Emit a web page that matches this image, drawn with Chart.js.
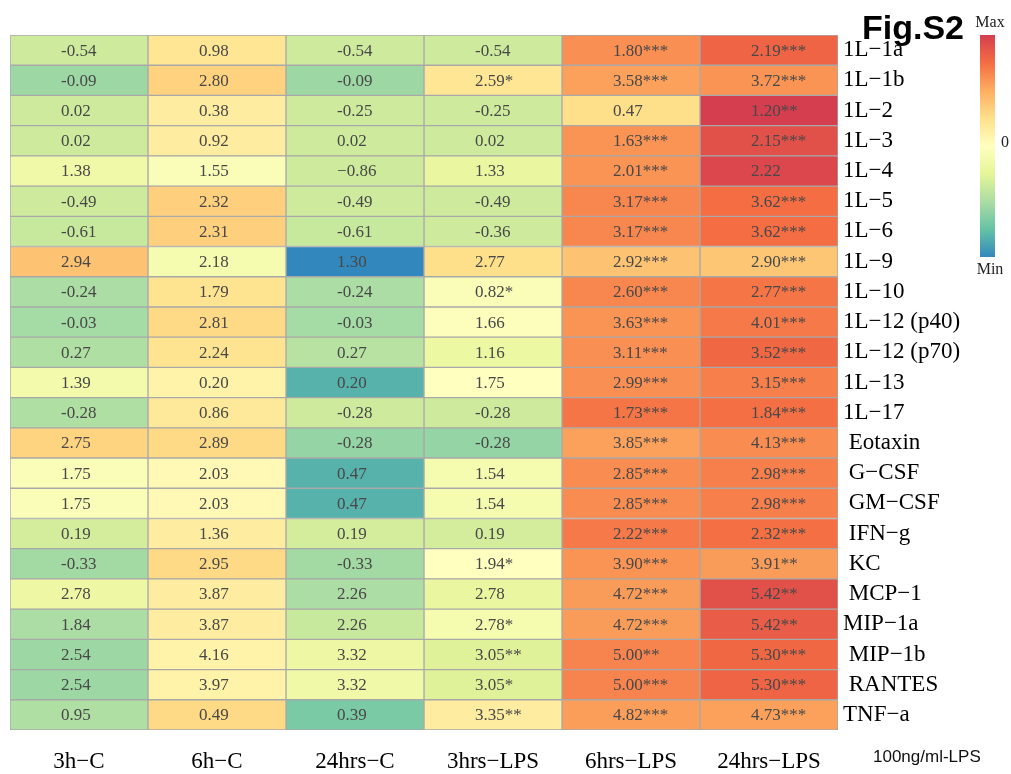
<!DOCTYPE html>
<html>
<head>
<meta charset="utf-8">
<script src="https://cdn.jsdelivr.net/npm/chart.js@4/dist/chart.umd.min.js"></script>
<style>
  html, body { margin: 0; padding: 0; background: #fff; }
  #wrap { width: 1011px; height: 774px; }
</style>
</head>
<body>
<div id="wrap"><canvas id="heat" width="1011" height="774"></canvas></div>
<script>
// Heatmap de citocinas: 6 condiciones x 23 analitos

const columnas = ['3h−C', '6h−C', '24hrs−C', '3hrs−LPS', '6hrs−LPS', '24hrs−LPS'];

const filas = ['1L−1a', '1L−1b', '1L−2', '1L−3', '1L−4', '1L−5', '1L−6', '1L−9', '1L−10',
  '1L−12 (p40)', '1L−12 (p70)', '1L−13', '1L−17', ' Eotaxin', ' G−CSF', ' GM−CSF', ' IFN−g',
  ' KC', ' MCP−1', 'MIP−1a', ' MIP−1b', ' RANTES', 'TNF−a'];

// texto mostrado en cada celda
const textos = [
  ['-0.54', '0.98', '-0.54', '-0.54', '1.80***', '2.19***'],
  ['-0.09', '2.80', '-0.09', '2.59*', '3.58***', '3.72***'],
  ['0.02', '0.38', '-0.25', '-0.25', '0.47', '1.20**'],
  ['0.02', '0.92', '0.02', '0.02', '1.63***', '2.15***'],
  ['1.38', '1.55', '−0.86', '1.33', '2.01***', '2.22'],
  ['-0.49', '2.32', '-0.49', '-0.49', '3.17***', '3.62***'],
  ['-0.61', '2.31', '-0.61', '-0.36', '3.17***', '3.62***'],
  ['2.94', '2.18', '1.30', '2.77', '2.92***', '2.90***'],
  ['-0.24', '1.79', '-0.24', '0.82*', '2.60***', '2.77***'],
  ['-0.03', '2.81', '-0.03', '1.66', '3.63***', '4.01***'],
  ['0.27', '2.24', '0.27', '1.16', '3.11***', '3.52***'],
  ['1.39', '0.20', '0.20', '1.75', '2.99***', '3.15***'],
  ['-0.28', '0.86', '-0.28', '-0.28', '1.73***', '1.84***'],
  ['2.75', '2.89', '-0.28', '-0.28', '3.85***', '4.13***'],
  ['1.75', '2.03', '0.47', '1.54', '2.85***', '2.98***'],
  ['1.75', '2.03', '0.47', '1.54', '2.85***', '2.98***'],
  ['0.19', '1.36', '0.19', '0.19', '2.22***', '2.32***'],
  ['-0.33', '2.95', '-0.33', '1.94*', '3.90***', '3.91**'],
  ['2.78', '3.87', '2.26', '2.78', '4.72***', '5.42**'],
  ['1.84', '3.87', '2.26', '2.78*', '4.72***', '5.42**'],
  ['2.54', '4.16', '3.32', '3.05**', '5.00**', '5.30***'],
  ['2.54', '3.97', '3.32', '3.05*', '5.00***', '5.30***'],
  ['0.95', '0.49', '0.39', '3.35**', '4.82***', '4.73***']
];

// nivel de color (-1 = Min, 0 = centro, 1 = Max)
const niveles = [
  [-0.35, 0.2, -0.35, -0.35, 0.62, 0.8],
  [-0.55, 0.32, -0.55, 0.2, 0.55, 0.6],
  [-0.35, 0.15, -0.35, -0.35, 0.25, 1.0],
  [-0.35, 0.15, -0.35, -0.35, 0.6, 0.9],
  [-0.15, -0.05, -0.35, -0.2, 0.6, 0.95],
  [-0.35, 0.33, -0.35, -0.35, 0.65, 0.75],
  [-0.38, 0.33, -0.38, -0.35, 0.65, 0.75],
  [0.4, -0.1, -1.0, 0.25, 0.4, 0.38],
  [-0.5, 0.22, -0.5, -0.05, 0.65, 0.72],
  [-0.52, 0.28, -0.52, -0.02, 0.6, 0.7],
  [-0.48, 0.22, -0.45, -0.18, 0.62, 0.78],
  [-0.12, 0.1, -0.82, 0.0, 0.62, 0.68],
  [-0.48, 0.18, -0.35, -0.35, 0.72, 0.74],
  [0.31, 0.28, -0.58, -0.58, 0.55, 0.63],
  [-0.05, 0.05, -0.82, -0.1, 0.63, 0.68],
  [-0.05, 0.05, -0.82, -0.1, 0.63, 0.68],
  [-0.33, 0.15, -0.33, -0.33, 0.7, 0.74],
  [-0.53, 0.28, -0.53, 0.0, 0.6, 0.57],
  [-0.17, 0.15, -0.5, -0.2, 0.57, 0.9],
  [-0.5, 0.15, -0.38, -0.1, 0.57, 0.84],
  [-0.55, 0.1, -0.17, -0.28, 0.66, 0.78],
  [-0.55, 0.1, -0.15, -0.28, 0.66, 0.8],
  [-0.48, 0.28, -0.68, 0.15, 0.56, 0.55]
];

// paleta Spectral, de Min a Max
const paleta = ['#3288bd', '#66c2a5', '#abdda4', '#e6f598', '#ffffbf', '#fee08b', '#fdae61', '#f46d43', '#d53e4f'];

function hexRgb(h) {
  return [parseInt(h.slice(1, 3), 16), parseInt(h.slice(3, 5), 16), parseInt(h.slice(5, 7), 16)];
}

function colorNivel(t) {
  const p = (Math.max(-1, Math.min(1, t)) + 1) / 2 * (paleta.length - 1);
  const i = Math.min(paleta.length - 2, Math.floor(p));
  const f = p - i;
  const a = hexRgb(paleta[i]), b = hexRgb(paleta[i + 1]);
  const c = a.map((v, k) => Math.round(v + (b[k] - v) * f));
  return `rgb(${c[0]},${c[1]},${c[2]})`;
}

const SERIF = '"Liberation Serif", "DejaVu Serif", serif';
const SANS = '"Liberation Sans", Arial, sans-serif';

const datasets = columnas.map((col, c) => ({
  label: col,
  data: filas.map(() => [c, c + 1]),
  backgroundColor: filas.map((_, r) => colorNivel(niveles[r][c])),
  borderColor: '#a9a9a9',
  borderWidth: 1,
  borderSkipped: false,
  barPercentage: 1,
  categoryPercentage: 1
}));

const textoCeldas = {
  id: 'textoCeldas',
  afterDatasetsDraw(chart) {
    const { ctx, scales } = chart;
    ctx.save();
    ctx.font = '17px ' + SERIF;
    ctx.fillStyle = '#484848';
    ctx.textAlign = 'left';
    ctx.textBaseline = 'middle';
    textos.forEach((fila, r) => {
      fila.forEach((t, c) => {
        ctx.fillText(t, scales.x.getPixelForValue(c + 0.37), scales.y.getPixelForValue(r) + 1);
      });
    });
    ctx.restore();
  }
};

const extras = {
  id: 'extras',
  afterDraw(chart) {
    const { ctx } = chart;
    ctx.save();
    // barra de color
    const x0 = 980, y0 = 35, w = 15, h = 222;
    const g = ctx.createLinearGradient(0, y0, 0, y0 + h);
    paleta.slice().reverse().forEach((col, i) => g.addColorStop(i / (paleta.length - 1), col));
    ctx.fillStyle = g;
    ctx.fillRect(x0, y0, w, h);

    ctx.fillStyle = '#222';
    ctx.font = '16px ' + SERIF;
    ctx.textAlign = 'center';
    ctx.textBaseline = 'middle';
    ctx.fillText('Max', 990, 23);
    ctx.fillText('Min', 990, 270);
    ctx.textAlign = 'left';
    ctx.fillText('0', 1001, 143);

    ctx.fillStyle = '#000';
    ctx.font = 'bold 34px ' + SANS;
    ctx.textAlign = 'left';
    ctx.textBaseline = 'alphabetic';
    ctx.fillText('Fig.S2', 862, 39);

    ctx.font = '17px ' + SANS;
    ctx.textBaseline = 'middle';
    ctx.fillStyle = '#111';
    ctx.fillText('100ng/ml-LPS', 873, 757);
    ctx.restore();
  }
};

new Chart(document.getElementById('heat'), {
  type: 'bar',
  data: { labels: filas, datasets },
  options: {
    indexAxis: 'y',
    responsive: false,
    animation: false,
    layout: { padding: { left: 10, top: 35, right: 0, bottom: 0 } },
    plugins: { legend: { display: false }, tooltip: { enabled: false } },
    scales: {
      x: {
        type: 'linear',
        min: 0,
        max: columnas.length,
        position: 'bottom',
        grid: { display: false, drawTicks: false },
        border: { display: false },
        afterBuildTicks: axis => { axis.ticks = columnas.map((_, i) => ({ value: i + 0.5 })); },
        afterFit: axis => { axis.height = 44; },
        ticks: {
          autoSkip: false,
          maxRotation: 0,
          padding: 18,
          color: '#000',
          font: { family: SERIF, size: 23 },
          callback: v => columnas[Math.floor(v)]
        }
      },
      y: {
        type: 'category',
        position: 'right',
        stacked: true,
        grid: { display: false, drawTicks: false },
        border: { display: false },
        afterFit: axis => { axis.width = 173; },
        ticks: {
          autoSkip: false,
          padding: 5,
          color: '#000',
          font: { family: SERIF, size: 23 }
        }
      }
    }
  },
  plugins: [textoCeldas, extras]
});
</script>
</body>
</html>
